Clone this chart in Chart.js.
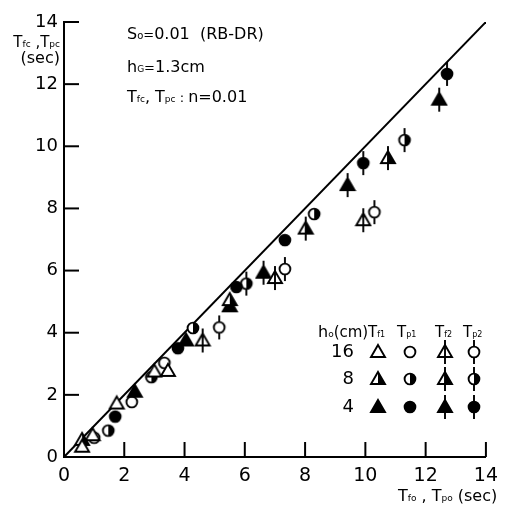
<!DOCTYPE html>
<html>
<head>
<meta charset="utf-8">
<script src="https://cdn.jsdelivr.net/npm/chart.js@4.4.1/dist/chart.umd.min.js"></script>
<style>
  html, body { margin: 0; padding: 0; background: #fff; }
  #caixa { width: 506px; height: 505px; }
</style>
</head>
<body>
<div id="caixa"><canvas id="grafico"></canvas></div>
<script>
// pares [T observado, T calculado] em segundos, por h0 (16, 8, 4 cm)
const tf1_16 = [[0.6, 0.33], [0.95, 0.7], [1.75, 1.72], [3.0, 2.75], [3.45, 2.77]];
const tf1_8 = [[0.6, 0.55], [5.5, 5.05]];
const tf1_4 = [[2.35, 2.1], [4.05, 3.75], [5.5, 4.85]];
const tp1_16 = [[1.0, 0.62], [2.25, 1.77], [3.33, 3.03]];
const tp1_8 = [[1.47, 0.85], [2.9, 2.57], [4.28, 4.15], [8.3, 7.82]];
const tp1_4 = [[1.7, 1.3], [3.78, 3.5], [5.72, 5.47], [7.33, 6.98]];
const tf2_16 = [[4.6, 3.75], [7.0, 5.76], [9.93, 7.62]];
const tf2_8 = [[8.02, 7.35], [10.75, 9.62]];
const tf2_4 = [[6.62, 5.93], [9.41, 8.75], [12.45, 11.5]];
const tp2_16 = [[5.15, 4.17], [7.33, 6.05], [10.3, 7.88]];
const tp2_8 = [[6.05, 5.58], [11.3, 10.2]];
const tp2_4 = [[9.93, 9.46], [12.71, 12.33]];
const linhaIgual = [[0, 0], [14, 14]];
const ticksEixo = [0, 2, 4, 6, 8, 10, 12, 14];
const alturasH0 = ['16', '8', '4'];

const FONTE = '"DejaVu Sans"';

// desenha o símbolo num canvas pequeno para usar como pointStyle
function criaMarcador(forma, preench, haste) {
    const c = document.createElement('canvas');
    c.width = 18;
    c.height = 28;
    const g = c.getContext('2d');
    const cx = 9, cy = 14;
    g.lineWidth = 1.9;
    g.strokeStyle = '#000';

    const contorno = () => {
        g.beginPath();
        if (forma === 'tri') {
            g.moveTo(cx, cy - 7);
            g.lineTo(cx + 7, cy + 5);
            g.lineTo(cx - 7, cy + 5);
            g.closePath();
        } else {
            g.arc(cx, cy, 5.4, 0, Math.PI * 2);
        }
    };

    if (haste) {
        g.beginPath();
        if (forma === 'tri') {
            g.moveTo(cx, cy - 12); g.lineTo(cx, cy - 7);
            g.moveTo(cx, cy + 5); g.lineTo(cx, cy + 12);
        } else {
            g.moveTo(cx, cy - 12); g.lineTo(cx, cy - 5);
            g.moveTo(cx, cy + 5); g.lineTo(cx, cy + 12);
        }
        g.stroke();
    }

    contorno();
    g.fillStyle = preench === 'cheio' ? '#000' : '#fff';
    g.fill();
    if (preench === 'meio') {
        g.save();
        contorno();
        g.clip();
        g.fillStyle = '#000';
        g.fillRect(cx, 0, 10, 28);
        g.restore();
    }
    contorno();
    g.stroke();

    // no triângulo a haste atravessa o símbolo
    if (haste && forma === 'tri') {
        g.beginPath();
        g.moveTo(cx, cy - 7); g.lineTo(cx, cy + 5);
        g.stroke();
    }
    return c;
}

const preenchimentos = ['vazio', 'meio', 'cheio'];
const colunas = [
    { forma: 'tri', haste: false, series: [tf1_16, tf1_8, tf1_4] },
    { forma: 'circ', haste: false, series: [tp1_16, tp1_8, tp1_4] },
    { forma: 'tri', haste: true, series: [tf2_16, tf2_8, tf2_4] },
    { forma: 'circ', haste: true, series: [tp2_16, tp2_8, tp2_4] }
];
colunas.forEach(col => {
    col.marcadores = preenchimentos.map(p => criaMarcador(col.forma, p, col.haste));
});

const datasets = [{
    type: 'line',
    data: linhaIgual.map(([x, y]) => ({ x, y })),
    borderColor: '#000',
    borderWidth: 2,
    pointRadius: 0,
    fill: false,
    order: 10
}];
colunas.forEach(col => {
    col.series.forEach((s, i) => {
        datasets.push({
            data: s.map(([x, y]) => ({ x, y })),
            pointStyle: col.marcadores[i],
            pointRadius: 8,
            showLine: false,
            clip: false,
            order: 0
        });
    });
});

// texto com partes menores (índices)
function escreve(ctx, x, y, partes, alinh) {
    let largura = 0;
    partes.forEach(([t, s]) => {
        ctx.font = `${s}px ${FONTE}`;
        largura += ctx.measureText(t).width;
    });
    let cx = alinh === 'direita' ? x - largura : x;
    partes.forEach(([t, s, dy]) => {
        ctx.font = `${s}px ${FONTE}`;
        ctx.fillText(t, cx, y + (dy || 0));
        cx += ctx.measureText(t).width;
    });
}

const enfeites = {
    id: 'enfeites',
    afterDraw(chart) {
        const { ctx, scales: { x, y }, chartArea } = chart;
        ctx.save();
        ctx.strokeStyle = '#000';
        ctx.lineWidth = 2;
        // marcas dos eixos voltadas para dentro
        ticksEixo.forEach(v => {
            if (v === 0) return;
            const px = x.getPixelForValue(v);
            ctx.beginPath();
            ctx.moveTo(px, chartArea.bottom);
            ctx.lineTo(px, chartArea.bottom - 15);
            ctx.stroke();
            const py = y.getPixelForValue(v);
            ctx.beginPath();
            ctx.moveTo(chartArea.left, py);
            ctx.lineTo(chartArea.left + 15, py);
            ctx.stroke();
        });

        ctx.fillStyle = '#000';
        ctx.textBaseline = 'alphabetic';

        // títulos dos eixos
        escreve(ctx, 60, 47, [['T', 15], ['fc', 9], [' ,', 15], ['T', 15], ['pc', 9]], 'direita');
        escreve(ctx, 60, 63, [['(sec)', 16]], 'direita');
        escreve(ctx, 398, 501, [['T', 16], ['fo', 9], [' , ', 16], ['T', 16], ['po', 9], [' (sec)', 16]]);

        // condições do ensaio
        escreve(ctx, 127, 39, [['S', 16], ['o', 10], ['=', 13], ['0.01', 16], ['  (RB-DR)', 16]]);
        escreve(ctx, 127, 72, [['h', 16], ['G', 9], ['=', 13], ['1.3cm', 16]]);
        escreve(ctx, 127, 102, [['T', 16], ['fc', 9], [', ', 16], ['T', 16], ['pc', 9], [' : ', 13], ['n=0.01', 16]]);

        // legenda em grade
        escreve(ctx, 318, 337, [['h', 16], ['o', 9], ['(cm)', 15]]);
        escreve(ctx, 368, 337, [['T', 15], ['f1', 8]]);
        escreve(ctx, 397, 337, [['T', 15], ['p1', 8]]);
        escreve(ctx, 435, 337, [['T', 15], ['f2', 8]]);
        escreve(ctx, 463, 337, [['T', 15], ['p2', 8]]);

        const linhasY = [352, 379, 407];
        const colunasX = [378, 410, 445, 474];
        alturasH0.forEach((h, i) => {
            ctx.font = `18px ${FONTE}`;
            ctx.textAlign = 'right';
            ctx.textBaseline = 'middle';
            ctx.fillText(h, 354, linhasY[i]);
            colunas.forEach((col, j) => {
                const m = col.marcadores[i];
                ctx.drawImage(m, colunasX[j] - m.width / 2, linhasY[i] - m.height / 2);
            });
        });
        ctx.restore();
    }
};

new Chart(document.getElementById('grafico'), {
    type: 'scatter',
    data: { datasets },
    options: {
        responsive: true,
        maintainAspectRatio: false,
        animation: false,
        layout: { padding: { left: 0, right: 13, top: 22, bottom: 0 } },
        plugins: {
            legend: { display: false },
            tooltip: { enabled: false }
        },
        scales: {
            x: {
                type: 'linear',
                min: 0,
                max: 14,
                afterBuildTicks: s => { s.ticks = ticksEixo.map(v => ({ value: v })); },
                afterFit: s => { s.height = 48; },
                grid: { drawOnChartArea: false, drawTicks: false, color: 'rgba(0,0,0,0)' },
                border: { display: true, color: '#000', width: 2 },
                ticks: { color: '#000', padding: 8, maxRotation: 0, font: { family: 'DejaVu Sans', size: 19 } }
            },
            y: {
                type: 'linear',
                min: 0,
                max: 14,
                afterBuildTicks: s => { s.ticks = ticksEixo.map(v => ({ value: v })); },
                afterFit: s => { s.width = 64; },
                grid: { drawOnChartArea: false, drawTicks: false, color: 'rgba(0,0,0,0)' },
                border: { display: true, color: '#000', width: 2 },
                ticks: { color: '#000', padding: 6, font: { family: 'DejaVu Sans', size: 18 } }
            }
        }
    },
    plugins: [enfeites]
});
</script>
</body>
</html>
